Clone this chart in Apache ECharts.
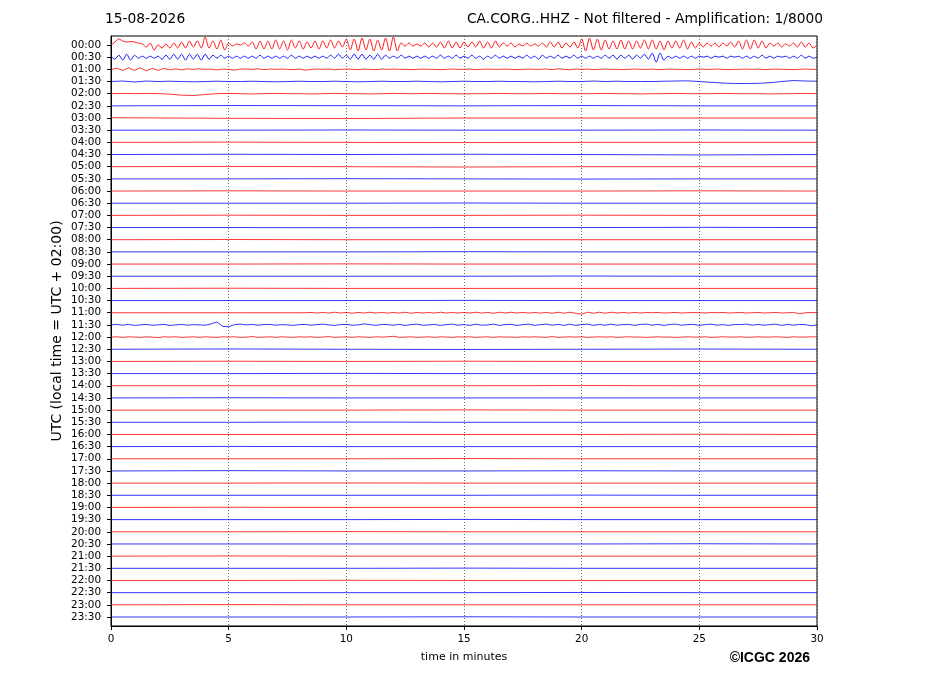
<!DOCTYPE html>
<html>
<head>
<meta charset="utf-8">
<script src="https://cdn.jsdelivr.net/npm/echarts@6.0.0/dist/echarts.min.js"></script>
<style>
  html, body { margin: 0; padding: 0; background: #fff; }
  #chart { width: 927px; height: 696px; }
</style>
</head>
<body>
<div id="chart"></div>
<script>
const rowLabels = [
    '00:00', '00:30', '01:00', '01:30', '02:00', '02:30', '03:00', '03:30',
    '04:00', '04:30', '05:00', '05:30', '06:00', '06:30', '07:00', '07:30',
    '08:00', '08:30', '09:00', '09:30', '10:00', '10:30', '11:00', '11:30',
    '12:00', '12:30', '13:00', '13:30', '14:00', '14:30', '15:00', '15:30',
    '16:00', '16:30', '17:00', '17:30', '18:00', '18:30', '19:00', '19:30',
    '20:00', '20:30', '21:00', '21:30', '22:00', '22:30', '23:00', '23:30'
]
const xTicks = [0, 5, 10, 15, 20, 25, 30]
const traceColors = ['#ff0000', '#0000ff']

// deflection of each trace, in pixels of the original plot (up = positive)
// 00:00 and 00:30: one value every 10 s
const trace0000 = [
    0, 3, 6, 4, 3, 3.5,
    3, 2, 1, -2, 2, -5,
    0, -3, 1, -3, 2, -3,
    3, -3, 4, -2, 4, -3,
    8, -3, 4, -4, 5, -5,
    2, -1, 1, 0, 2, -1,
    3, -4, 4, -4, 4, -4,
    5, -4, 4, -5, 5, -3,
    4, -4, 3, -3, 4, -4,
    4, -3, 5, -3, 4, -2,
    6, -5, 6, -6, 7, -5,
    6, -6, 5, -5, 7, -6,
    8, -6, 2, -1, 2, -1,
    1, -1, 2, -2, 2, -2,
    3, -3, 4, -3, 3, -3,
    3, -2, 3, -2, 4, -3,
    3, -3, 4, -2, 2, -1,
    2, -2, 1, -1, 2, -1,
    1, -1, 2, -2, 3, -2,
    3, -3, 2, -2, 3, -3,
    6, -6, 7, -5, 6, -5,
    5, -4, 4, -4, 5, -4,
    4, -4, 4, -3, 5, -4,
    5, -4, 4, -5, 4, -3,
    4, -3, 5, -4, 3, -3,
    2, -2, 2, -1, 2, -2,
    2, -1, 3, -2, 4, -4,
    5, -4, 5, -3, 4, -3,
    2, -1, 2, -2, 1, -1,
    2, -2, 3, -2, 2, -3,
    0
]
const trace0030 = [
    1, -2, 2, -3, 3, -3,
    2, -1, 1, -1, 1, -1,
    1, -2, 2, -2, 3, -2,
    3, -3, 3, -2, 3, -3,
    3, -2, 2, -1, 2, -1,
    1, -1, 1, -1, 1, -1,
    1, -1, 2, -1, 1, -1,
    1, -1, 1, -1, 2, -1,
    1, -1, 1, -1, 1, -1,
    1, -1, 2, -1, 3, -1,
    2, -2, 3, -2, 3, -2,
    2, -2, 3, -2, 2, -1,
    1, -1, 2, -1, 1, -1,
    1, -1, 1, -1, 1, -1,
    2, -1, 1, -1, 2, -1,
    1, -1, 2, -1, 1, -2,
    1, -1, 2, -1, 1, -1,
    1, -1, 1, -1, 2, -1,
    1, -2, 2, -1, 1, -1,
    2, -1, 1, -1, 2, -1,
    1, -1, 1, -1, 1, -1,
    2, -1, 2, -2, 2, -1,
    2, -2, 2, -1, 3, -2,
    4, -5, 4, -3, 1, -1,
    1, -1, 1, -1, 1, -1,
    1, 0, 1, -1, 1, 0,
    1, -1, 1, 0, 1, -1,
    1, -1, 1, -1, 2, -1,
    1, -1, 1, 0, 1, -1,
    1, -1, 2, -1, 1, -1,
    0
]
// 01:00, 11:00, 11:30, 12:00: one value every 15 s
const trace0100 = [
    0, 1, -1, 1.5,  -1, 1.5, -1.5, 1,  -1, 1, -0.5, 0.5,  -0.5, 0.5, 0, 0.5,
    0, 0.3, -0.5, 0.3,  0, -0.8, 0.3, 0.3,  0, 0.5, -0.3, 0.3,  0, 0.3, 0, -0.3,
    0.3, -0.8, 0, 0.3,  0, 0.3, -0.3, 0,  0.3, 0, -0.3, 0.3,  0, -0.3, 0.3, 0,
    0.3, 0, 0, -0.3,  0, 0.3, 0, 0,  -0.3, 0, 0.3, 0,  0, 0.3, -0.3, 0,
    0.3, 0, 0, 0.3,  0, -0.3, 0, 0.3,  0, 0, 0.3, -0.3,  0.5, 0, -0.3, 0.3,
    0, 0.3, -0.3, 0,  0.3, 0, 0, -0.3,  0, 0.3, 0, 0,  0.3, -0.3, 0, 0.3,
    0, 0, -0.3, 0,  0.3, 0, 0, 0.3,  0, -0.3, 0, 0,  0.3, 0, 0.3, -0.3,
    0, 0.3, 0, 0,  -0.3, 0, 0.3, 0,
    0
]
const trace1100 = [
    0, 0, 0, 0,  0, 0, 0, 0,  0, 0, 0, 0,  0, 0, 0, 0,
    0, 0, 0, 0,  0, 0, 0, 0,  0, 0, 0, 0,  0, 0, 0, 0,
    0, 0, 0.3, -0.3,  0.3, -0.3, 0.5, -0.3,  0.3, -0.5, 0.3, -0.3,  0.5, -0.3, 0.3, -0.3,
    0.3, -0.3, 0.5, -0.5,  0.3, -0.3, 0.3, -0.3,  0.5, -0.3, 0.3, -0.3,  0.3, -0.3, 0.5, -0.3,
    0.3, -0.5, 0.5, -0.3,  0.5, -0.3, 0.3, -0.3,  0.3, -0.3, 0.3, -0.5,  0.5, -0.5, 0.5, -0.5,
    -1.5, 0.5, -0.5, 0.5,  -0.5, 0.5, -0.3, 0.3,  -0.3, 0.3, -0.3, 0.3,  0, 0.3, -0.3, 0,
    0.3, -0.3, 0, 0.3,  0, -0.3, 0.3, 0,  0.3, -0.3, 0, 0.3,  -0.3, 0, 0.3, -0.3,
    0, 0.3, -0.3, 0,  0.3, -1, 0, 0.3,
    0
]
const trace1130 = [
    0, 0.5, -0.3, 0.5,  -0.5, 0, 0.5, -0.3,  0, 0.5, -0.5, 0,  0.5, -0.3, 0.3, 0,
    -0.3, 1, 3, -1.5,  -1.8, 0.3, 0.8, 0,  0.5, -0.3, 0.3, 0.5,  -0.3, 0.3, 0, -0.5,
    0.3, 0.5, -0.3, 0.3,  0.8, 0, -0.5, 0.3,  0.5, -0.3, 0, 1,  0.3, -0.5, 0.5, 0.3,
    -0.3, 0.5, -0.5, 0.3,  0.8, -0.3, 0, 0.5,  -0.5, 0.3, 0.8, -0.3,  0.3, -0.5, 0.8, -0.3,
    0, 0.8, -0.5, 0.3,  0.5, -0.5, 0.3, 0.8,  -0.5, 0.3, 0.8, -0.3,  0.5, -0.5, 0.8, -0.5,
    0.3, 0.8, -0.5, 0.5,  -0.3, 0.8, -0.3, 0.3,  0.5, -0.5, 0.5, 0.8,  -0.3, 0.5, -0.5, 0.5,
    0.8, -0.3, 0.3, 0.5,  -0.5, 0.3, 0.8, -0.3,  0.3, -0.5, 0.5, 0.3,  0.8, -0.3, 0.5, -0.3,
    0.3, 0.8, -0.5, 0.5,  -0.3, 0.5, 0.3, -0.8,
    0
]
const trace1200 = [
    0, 0.3, -0.3, 0.3,  0, -0.3, 0.3, 0,  -0.5, 0.3, 0, 0.3,  -0.3, 0, 0.3, -0.3,
    0.3, 0, -0.3, 0.3,  0, 0.3, -0.3, 0,  0.5, -0.3, 0, 0.3,  -0.3, 0.3, 0, -0.3,
    0.3, 0, 0.3, -0.3,  0, 0.5, -0.3, 0,  0.3, -0.3, 0.3, 0,  -0.3, 0.3, 0, 0.3,
    0.8, -0.3, 0, 0.3,  -0.3, 0, 0.3, -0.3,  0.3, 0, -0.3, 0.3,  0, 0.3, -0.3, 0,
    0.3, -0.3, 0.3, 0,  0, -0.3, 0.3, 0,  0.3, 0, -0.3, 0.5,  -0.3, 0, 0.3, 0,
    0.3, -0.3, 0, 0.3,  0, 0.3, -0.3, 0,  0.3, 0, 0, -0.3,  0, 0.3, 0, 0,
    -0.3, 0, 0.3, 0,  0, 0.3, -0.3, 0,  0.3, 0, 0, 0.3,  -0.3, 0, 0.3, 0,
    0, 0.3, 0, -0.3,  0.3, 0, 0, 0.3,
    0
]
// 01:30 and 02:00: one value every 30 s
const trace0130 = [
    0, 0.5, -0.5, 0.5, 0, 0.3, 0, -0.3, 0, 0.3,
    0, 0, 0.3, 0, -0.3, 0, 0.3, 0, 0, 0.3,
    0, -0.3, 0, 0.3, 0, 0, 0.3, 0, -0.3, 0,
    0.3, 0, 0, 0.3, 0, 0, -0.3, 0, 0.3, 0,
    0, 0.5, 0, 0.3, 0, 0, 0, 0.3, 0.5, 0.7,
    0, -0.8, -1.5, -2, -2, -1.8, -1.2, 0, 1, 0.5,
    0.3
]
const trace0200 = [
    0, 0.3, 0, 0.3, 0, -0.5, -1.5, -1.8, -0.8, 0,
    0.3, 0, -0.3, 0, 0.3, 0, 0, -0.3, 0, 0.3,
    0, 0, -0.3, 0, 0.3, 0, 0, 0.3, 0, 0,
    -0.3, 0, 0, 0.3, 0, 0, 0, 0.3, 0, 0,
    0, 0, 0.3, 0, 0, -0.3, 0, 0, 0.3, 0,
    0, 0, 0.3, 0, 0, 0, -0.3, 0, 0, 0.3,
    0
]
// the remaining rows are almost flat: one value every 5 min
const quietRows = [
    5, 6, 7, 8, 9, 10, 11, 12, 13, 14, 15, 16, 17, 18, 19, 20, 21,
    25, 26, 27, 28, 29, 30, 31, 32, 33, 34, 35, 36, 37, 38, 39, 40,
    41, 42, 43, 44, 45, 46, 47
]
const quietTraces = [
    [0, 0.3, 0.2, 0, 0.3, 0, 0],
    [0.3, -0.3, -0.5, 0, 0, 0, 0],
    [0, 0, 0.2, 0, 0, 0.2, 0],
    [0, 0.2, 0, -0.2, 0, 0, 0],
    [0, 0.3, 0, 0.3, 0, -0.4, 0],
    [0, 0.3, 0, -0.3, 0, 0, 0],
    [0, 0, 0.2, 0, -0.2, 0, 0],
    [0, 0.2, 0, 0, 0, 0.2, 0],
    [0, 0, 0, 0.2, 0, 0, 0],
    [0, 0.2, 0, 0, 0.2, 0, 0],
    [0, 0, -0.2, 0, 0, 0.2, 0],
    [0, 0.2, 0, 0, 0, 0, 0],
    [0, 0, 0, 0.2, 0, 0, 0],
    [0, 0, 0.2, 0, 0, 0, 0],
    [0, 0, 0, 0, 0.2, 0, 0],
    [0, 0.2, 0, 0, 0, 0, 0],
    [0, 0, 0, 0.2, 0, 0, 0],
    [0, 0.3, 0, -0.2, 0, 0.2, 0],
    [0, 0.2, 0, 0.2, 0, 0, 0],
    [0, 0, 0.2, 0, 0, 0, 0],
    [0, 0, 0, 0, 0.2, 0, 0],
    [0, 0.2, 0, 0, 0, 0, 0],
    [0, 0, 0, 0.2, 0, 0, 0],
    [0, 0, 0.2, 0, 0, 0, 0],
    [0, 0, 0, 0, 0, 0.2, 0],
    [0, 0.2, 0, 0, 0, 0, 0],
    [0, 0, 0, 0.2, 0, 0, 0],
    [0, 0.3, 0, 0, 0.2, 0, 0],
    [0, 0, 0.2, 0, 0, 0, 0],
    [0, 0, 0, 0, 0.2, 0, 0],
    [0, 0.2, 0, 0, 0, 0, 0],
    [0, 0, 0, 0.2, 0, 0, 0],
    [0, 0, 0.2, 0, 0, 0, 0],
    [0, 0, 0, 0, 0, 0.2, 0],
    [0, 0.2, 0, 0, 0, 0, 0],
    [0, 0, 0, 0.2, 0, 0, 0],
    [0, 0, 0.2, 0, 0, 0, 0],
    [0, 0, 0, 0, 0.2, 0, 0],
    [0, 0.2, 0, 0, 0, 0, 0],
    [0, 0, 0, 0.2, 0, 0, 0]
]

const pxPerRow = 12.17 // trace spacing of the original plot
const rowIdx = rowLabels.map((_, i) => i)

function traceSeries(row, values, step) {
    return {
        type: 'line',
        data: values.map((v, k) => [k * step, row - v / pxPerRow]),
        showSymbol: false,
        symbol: 'none',
        smooth: step < 0.2 ? 0.3 : false,
        silent: true,
        lineStyle: { width: step < 0.2 ? 0.9 : 0.8, color: traceColors[row % 2] }
    }
}

const series = [
    traceSeries(0, trace0000, 1 / 6),
    traceSeries(1, trace0030, 1 / 6),
    traceSeries(2, trace0100, 0.25),
    traceSeries(3, trace0130, 0.5),
    traceSeries(4, trace0200, 0.5),
    traceSeries(22, trace1100, 0.25),
    traceSeries(23, trace1130, 0.25),
    traceSeries(24, trace1200, 0.25)
]
quietRows.forEach((row, k) => series.push(traceSeries(row, quietTraces[k], 5)))

const font = 'DejaVu Sans'
const myChart = echarts.init(document.getElementById('chart'))

const option = {
    animation: false,
    title: [
        {
            text: '15-08-2026',
            left: 105, top: 12, padding: 0,
            textStyle: { fontSize: 13.8, fontWeight: 'normal', color: '#000', fontFamily: font }
        },
        {
            text: 'CA.CORG..HHZ - Not filtered - Amplification: 1/8000',
            right: 104, top: 12, padding: 0,
            textStyle: { fontSize: 13.8, fontWeight: 'normal', color: '#000', fontFamily: font }
        }
    ],
    grid: {
        left: 111, right: 110, top: 36, bottom: 70,
        show: true, borderColor: '#000', borderWidth: 1
    },
    xAxis: {
        type: 'value',
        min: 0, max: 30, interval: 5,
        name: 'time in minutes',
        nameLocation: 'middle',
        nameGap: 26,
        nameTextStyle: { fontSize: 11, color: '#000', fontFamily: font },
        axisLine: { show: true, onZero: false, lineStyle: { color: '#000', width: 1 } },
        axisTick: { show: true, length: 4, customValues: xTicks, lineStyle: { color: '#000' } },
        axisLabel: { customValues: xTicks, fontSize: 10.4, color: '#000', margin: 8, fontFamily: font },
        splitLine: { show: true, lineStyle: { type: [1, 2], color: '#444', width: 0.8 } }
    },
    yAxis: {
        type: 'value',
        inverse: true,
        min: -0.74, max: 47.74,
        name: 'UTC (local time = UTC + 02:00)',
        nameLocation: 'middle',
        nameGap: 47,
        nameMoveOverlap: false,
        nameTextStyle: { fontSize: 14, color: '#000', fontFamily: font },
        axisLine: { show: true, onZero: false, lineStyle: { color: '#000', width: 1 } },
        axisTick: { show: true, length: 4, customValues: rowIdx, lineStyle: { color: '#000' } },
        axisLabel: {
            customValues: rowIdx,
            formatter: v => rowLabels[v],
            fontSize: 10.4, color: '#000', margin: 10, fontFamily: font
        },
        splitLine: { show: false }
    },
    graphic: [
        {
            type: 'text',
            right: 117, top: 651,
            style: {
                text: '©ICGC 2026',
                font: 'bold 14px "Liberation Sans", Arial, sans-serif',
                fill: '#000'
            }
        }
    ],
    series
}

myChart.setOption(option)
</script>
</body>
</html>
